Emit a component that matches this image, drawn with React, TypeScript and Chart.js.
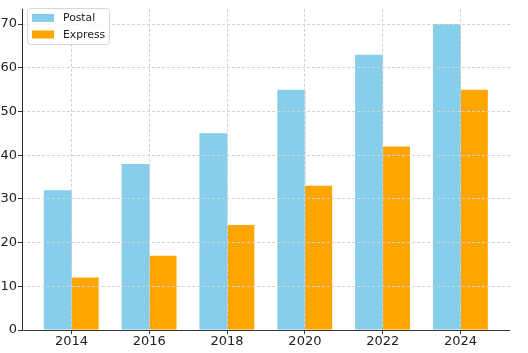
import React, { useEffect, useRef } from "react";
import { Chart, registerables } from "chart.js";

Chart.register(...registerables);

const years = [2014, 2016, 2018, 2020, 2022, 2024];
const postal = [32, 38, 45, 55, 63, 70];
const express = [12, 17, 24, 33, 42, 55];
const yTicks = [0, 10, 20, 30, 40, 50, 60, 70];
const seriesNames = ["Postal", "Express"];
const seriesColors = ["#87CEEB", "#FFA500"];

const FONT = "'DejaVu Sans', sans-serif";
const AXIS_COLOR = "#333";

const axesPlugin = {
  id: "axesAndLegend",
  afterDraw(chart: any) {
    const ctx = chart.ctx;
    const a = chart.chartArea;
    ctx.save();
    // axis spines
    ctx.strokeStyle = AXIS_COLOR;
    ctx.lineWidth = 1;
    ctx.beginPath();
    ctx.moveTo(Math.round(a.left) + 0.5, a.top);
    ctx.lineTo(Math.round(a.left) + 0.5, Math.round(a.bottom) + 0.5);
    ctx.lineTo(a.right, Math.round(a.bottom) + 0.5);
    ctx.stroke();
    // legend
    const x = 27.5, y = 8.5, w = 82, h = 36;
    const r = 3;
    ctx.beginPath();
    ctx.moveTo(x + r, y);
    ctx.lineTo(x + w - r, y);
    ctx.quadraticCurveTo(x + w, y, x + w, y + r);
    ctx.lineTo(x + w, y + h - r);
    ctx.quadraticCurveTo(x + w, y + h, x + w - r, y + h);
    ctx.lineTo(x + r, y + h);
    ctx.quadraticCurveTo(x, y + h, x, y + h - r);
    ctx.lineTo(x, y + r);
    ctx.quadraticCurveTo(x, y, x + r, y);
    ctx.closePath();
    ctx.fillStyle = "rgba(255,255,255,0.8)";
    ctx.fill();
    ctx.strokeStyle = "#d6d6d6";
    ctx.lineWidth = 1;
    ctx.stroke();
    ctx.font = "10.8px " + FONT;
    ctx.textBaseline = "middle";
    ctx.textAlign = "left";
    chart.data.datasets.forEach((ds: any, i: number) => {
      const sy = 14 + i * 16.5;
      ctx.fillStyle = ds.backgroundColor;
      ctx.fillRect(32, sy, 22, 8);
      ctx.fillStyle = "#222";
      ctx.fillText(ds.label, 63, sy + 4.5);
    });
    ctx.restore();
  },
};

export default function App() {
  const ref = useRef<HTMLCanvasElement | null>(null);
  useEffect(() => {
    document.body.style.margin = "0";
    const canvas = ref.current!;
    const chart = new Chart(canvas, {
      type: "bar",
      data: {
        datasets: [
          {
            label: seriesNames[0],
            data: years.map((yr, i) => ({ x: yr, y: postal[i] })),
            backgroundColor: seriesColors[0],
            borderWidth: 0,
            categoryPercentage: 0.7,
            barPercentage: 1.03,
          },
          {
            label: seriesNames[1],
            data: years.map((yr, i) => ({ x: yr, y: express[i] })),
            backgroundColor: seriesColors[1],
            borderWidth: 0,
            categoryPercentage: 0.7,
            barPercentage: 1.0,
          },
        ],
      },
      options: {
        animation: false,
        responsive: false,
        maintainAspectRatio: false,
        layout: { padding: { top: 3, right: 18, left: 0, bottom: 0 } },
        plugins: {
          legend: { display: false },
          tooltip: { enabled: false },
        },
        scales: {
          x: {
            type: "linear",
            offset: false,
            min: 2012.73,
            max: 2025.27,
            afterBuildTicks: (axis: any) => {
              axis.ticks = years.map((v) => ({ value: v }));
            },
            afterFit: (axis: any) => {
              axis.height = 23;
            },
            ticks: {
              font: { family: FONT, size: 13 },
              color: "#222",
              padding: 0,
              maxRotation: 0,
              autoSkip: false,
              callback: (v: any) => String(v),
            },
            grid: {
              z: 1,
              offset: false,
              color: "#d2d2d2",
              tickColor: AXIS_COLOR,
              tickLength: 4,
              lineWidth: 1,
            },
            border: { display: false, dash: [3, 2] },
          },
          y: {
            min: 0,
            max: 73.5,
            afterBuildTicks: (axis: any) => {
              axis.ticks = yTicks.map((v) => ({ value: v }));
            },
            afterFit: (axis: any) => {
              axis.width = 22;
            },
            ticks: {
              font: { family: FONT, size: 13 },
              color: "#222",
              padding: 1,
            },
            grid: {
              z: 1,
              color: "#d2d2d2",
              tickColor: AXIS_COLOR,
              tickLength: 4,
              lineWidth: 1,
            },
            border: { display: false, dash: [3, 2] },
          },
        },
      },
      plugins: [axesPlugin],
    } as any);
    return () => chart.destroy();
  }, []);
  return <canvas ref={ref} width={528} height={353} style={{ display: "block" }} />;
}
